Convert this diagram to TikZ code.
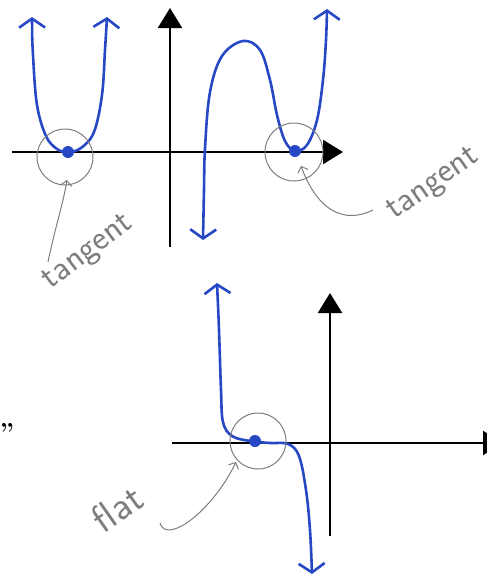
\documentclass[tikz,border=0pt]{standalone}
\usetikzlibrary{arrows.meta}
\definecolor{pen}{RGB}{38,72,196}
\definecolor{pencil}{RGB}{125,125,125}

\begin{document}
\begin{tikzpicture}[
  x=1pt, y=-1pt,
  axis/.style={line width=2.2pt, -{Triangle[length=20pt,width=24pt]}},
  curve/.style={draw=pen, line width=2.6pt, line cap=round, line join=round,
    {Straight Barb[length=9pt,width=26pt]}-{Straight Barb[length=9pt,width=26pt]}},
  dot/.style={circle, fill=pen, inner sep=0pt, minimum size=12pt},
  ring/.style={circle, draw=pencil, line width=1pt, minimum size=56pt, inner sep=0pt},
  note/.style={text=pencil, font=\sffamily\fontsize{35}{35}\selectfont, inner sep=0pt},
  pointer/.style={draw=pencil, line width=1pt, -{Straight Barb[length=5pt,width=11pt]}}
]
\useasboundingbox (0,0) rectangle (487,584);

\coordinate (xa0) at (12,152);
\coordinate (xa1) at (343,152);
\coordinate (ya0) at (170,247);
\coordinate (ya1) at (170,8);
\draw[axis] (xa0) -- (xa1);
\draw[axis] (ya0) -- (ya1);

\draw[curve] plot[smooth, tension=0.6] coordinates {(32,17) (33,55) (37,105) (46,136) (57,149) (68,152) (81,148) (94,132) (102,95) (105,50) (107,17)};
\draw[curve] plot[smooth, tension=0.6] coordinates {(203,240) (204,190) (205,148) (210,92) (222,56) (243,41) (260,50) (270,80) (277,115) (285,141) (295,151) (307,145) (317,120) (323,80) (326,40) (327,9)};

\node[dot] (tanptA) at (68,152) {};
\node[dot] (tanptB) at (295,151) {};
\node[ring] (circA) at (65,157) {};
\node[ring, minimum size=58pt] (circB) at (294,152) {};

\node[note, rotate=37] (lblA) at (89,253) {tangent};
\node[note, rotate=35] (lblB) at (434,185) {tangent};
\coordinate (tailA) at (48,262);
\coordinate (tailB) at (373,210);
\draw[pointer] (tailA) .. controls (55,228) and (64,200) .. ([shift={(2pt,-23pt)}]circA.center);
\draw[pointer] (tailB) .. controls (345,224) and (318,212) .. ([shift={(7pt,-14pt)}]circB.center);

\coordinate (xb0) at (172,443);
\coordinate (xb1) at (503,443);
\coordinate (yb0) at (330,536);
\coordinate (yb1) at (330,293);
\draw[axis] (xb0) -- (xb1);
\draw[axis] (yb0) -- (yb1);

\draw[curve] plot[smooth, tension=0.6] coordinates {(217,283) (219,330) (221,390) (223,422) (232,436) (250,441) (270,443) (288,444) (299,456) (306,490) (310,530) (312,574)};

\node[dot] (flatpt) at (255,441) {};
\node[ring] (circC) at (258,441) {};
\node[note, rotate=35, font=\sffamily\fontsize{40}{40}\selectfont] (lblC) at (117,508) {flat};
\coordinate (tailC) at (160,523);
\draw[pointer] (tailC) .. controls (166,545) and (212,512) .. ([shift={(-22pt,-21pt)}]circC.center);

\node[font=\bfseries\fontsize{26}{26}\selectfont, inner sep=0pt] (mark) at (7,432) {''};
\end{tikzpicture}
\end{document}
